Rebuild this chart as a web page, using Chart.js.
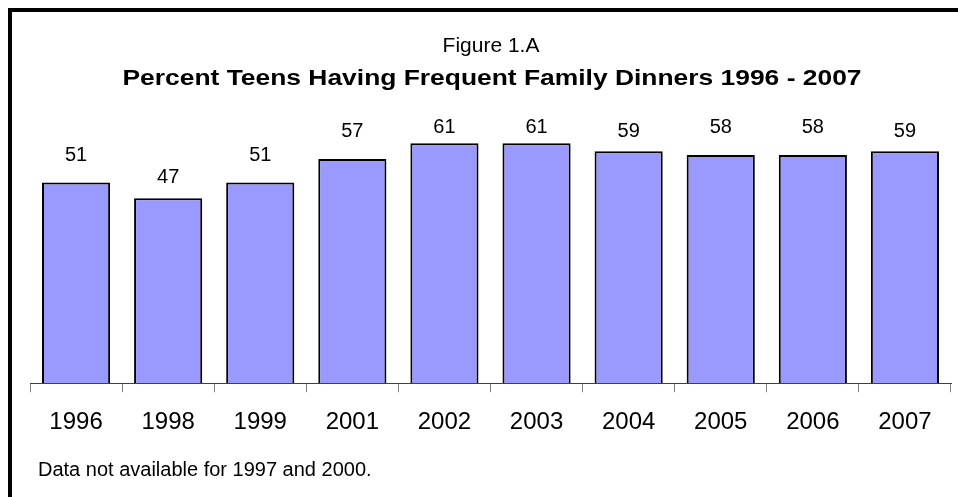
<!DOCTYPE html>
<html>
<head>
<meta charset="utf-8">
<script src="https://cdn.jsdelivr.net/npm/chart.js@4.4.0/dist/chart.umd.min.js"></script>
<style>
    html, body { margin: 0; padding: 0; background: #fff; overflow: hidden; }
    #wrap { position: relative; width: 958px; height: 497px; }
    #frame { position: absolute; left: 8px; top: 8px; width: 980px; height: 520px;
             border-left: 4px solid #000; border-top: 4px solid #000; pointer-events: none; }
</style>
</head>
<body>
<div id="wrap">
    <canvas id="dinnersChart" width="958" height="497"></canvas>
    <div id="frame"></div>
</div>
<script>
const years = ['1996', '1998', '1999', '2001', '2002', '2003', '2004', '2005', '2006', '2007']
const percentTeens = [51, 47, 51, 57, 61, 61, 59, 58, 58, 59]
const figureLabel = 'Figure 1.A'
const chartTitle = 'Percent Teens Having Frequent Family Dinners 1996 - 2007'
const footNote = 'Data not available for 1997 and 2000.'

const fontFamily = '"Liberation Sans", Arial, sans-serif'

// value labels above each bar (the original places them by hand, so the gap varies a little)
const barValues = {
    id: 'barValues',
    afterDatasetsDraw(chart, args, opts) {
        var ctx = chart.ctx
        var meta = chart.getDatasetMeta(0)
        ctx.save()
        ctx.font = '20px ' + fontFamily
        ctx.fillStyle = '#000'
        ctx.textAlign = 'center'
        ctx.textBaseline = 'middle'
        meta.data.forEach(function(bar, i) {
            var gap = opts.gaps ? opts.gaps[i] : 27
            ctx.fillText(chart.data.datasets[0].data[i], bar.x, bar.y - gap)
        })
        ctx.restore()
    }
}

// the headings and the note (the bold title is a bit wide, like the original)
const headings = {
    id: 'headings',
    afterDraw(chart) {
        var ctx = chart.ctx
        ctx.save()
        ctx.fillStyle = '#000'
        ctx.textBaseline = 'alphabetic'
        ctx.textAlign = 'center'
        ctx.font = '21px ' + fontFamily
        ctx.fillText(figureLabel, 491, 52)

        ctx.save()
        ctx.translate(492, 85)
        ctx.scale(1.2, 1)
        ctx.font = 'bold 22px ' + fontFamily
        ctx.fillText(chartTitle, 0, 0)
        ctx.restore()

        ctx.textAlign = 'left'
        ctx.font = '20px ' + fontFamily
        ctx.fillText(footNote, 38, 476)
        ctx.restore()
    }
}

var ctx = document.getElementById('dinnersChart')
new Chart(ctx, {
    type: 'bar',
    data: {
        labels: years,
        datasets: [
            {
                label: 'Percent',
                data: percentTeens,
                backgroundColor: '#9999FF',
                borderColor: '#000000',
                borderWidth: 2,
                borderSkipped: 'bottom',
                categoryPercentage: 0.74,
                barPercentage: 1
            }
        ]
    },
    options: {
        responsive: false,
        animation: false,
        layout: {
            padding: { top: 100, left: 30, right: 7, bottom: 44 }
        },
        scales: {
            x: {
                border: { color: '#404040', width: 1 },
                grid: {
                    offset: true,
                    drawOnChartArea: false,
                    color: '#808080',
                    tickLength: 9
                },
                ticks: {
                    color: '#000',
                    padding: 16,
                    font: { family: fontFamily, size: 24 }
                }
            },
            y: {
                display: false,
                min: 0,
                max: 72
            }
        },
        plugins: {
            legend: { display: false },
            tooltip: { enabled: false },
            title: { display: false },
            barValues: {
                gaps: [27, 21, 27, 28, 16, 16, 20, 28, 28, 20]
            }
        }
    },
    plugins: [barValues, headings]
})
</script>
</body>
</html>
